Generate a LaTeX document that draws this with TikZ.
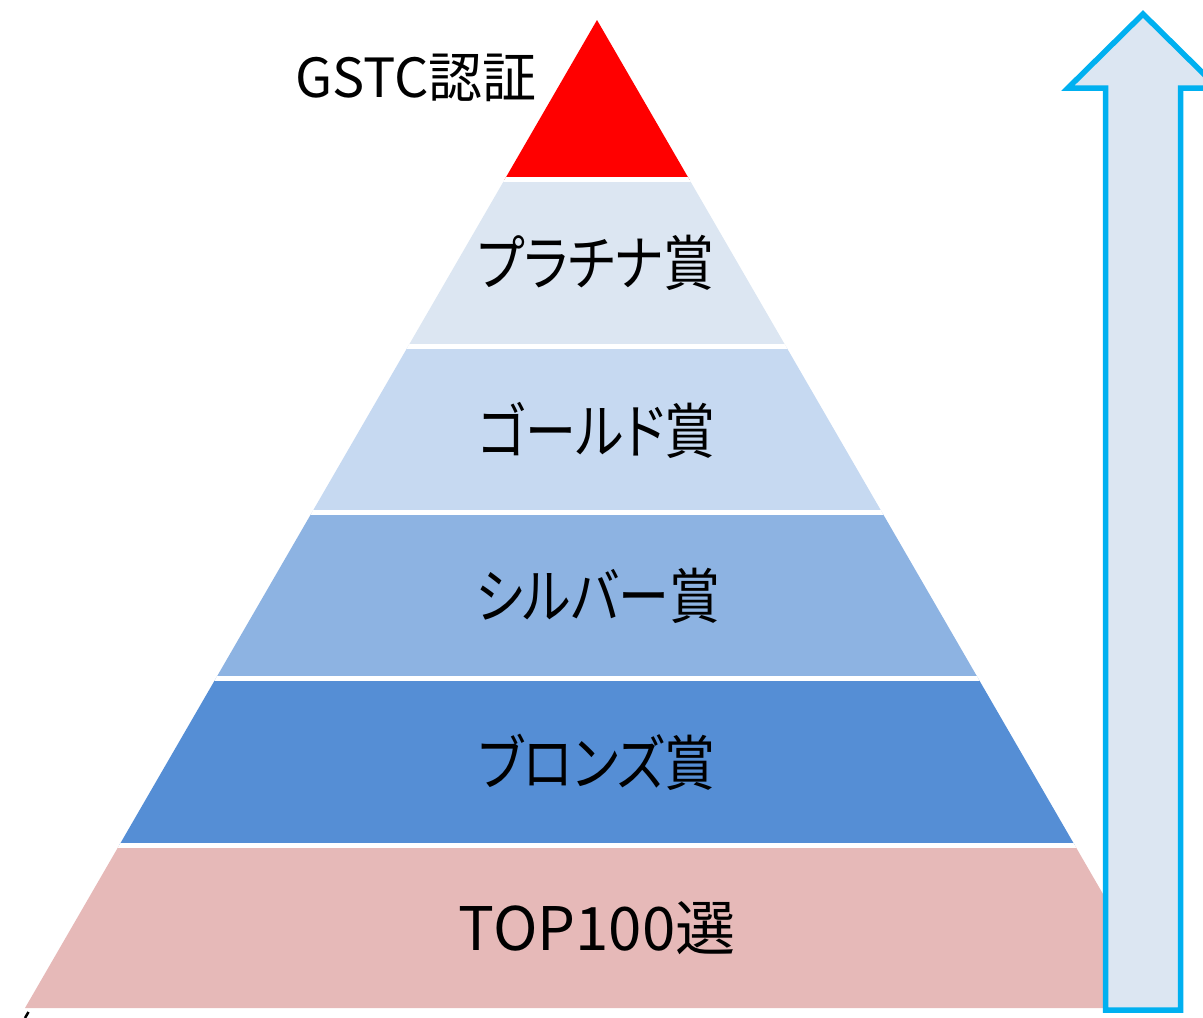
\documentclass[tikz,border=0pt]{standalone}
\usepackage{fontspec}
\usepackage{graphicx}
\setmainfont{Noto Sans CJK JP}[RawFeature=+palt]
\newfontfamily\jpfont{Noto Sans CJK JP}[RawFeature=+palt]
\definecolor{platcol}{HTML}{DCE6F2}
\definecolor{goldcol}{HTML}{C6D9F1}
\definecolor{silvcol}{HTML}{8DB3E2}
\definecolor{bronzecol}{HTML}{558ED5}
\definecolor{topcol}{HTML}{E6B9B8}
\definecolor{arrowedge}{HTML}{00B0F0}
\definecolor{arrowfill}{HTML}{DCE6F2}
\newcommand{\narrowtext}[1]{\scalebox{0.85}[1]{#1}}
\tikzset{
  bandlabel/.style={inner sep=0pt, font=\jpfont\fontsize{60}{66}\selectfont, text=black},
  toplabel/.style={inner sep=0pt, font=\jpfont\fontsize{54}{60}\selectfont, text=black},
  gap/.style={white, line width=5pt},
}
\begin{document}
\begin{tikzpicture}[x=1pt,y=-1pt]
\useasboundingbox (0,0) rectangle (1203,1018);
\clip (0,0) rectangle (1203,1018);
\begin{scope}
  \clip (597,20) -- (25,1008) -- (1169,1008) -- cycle;
  \fill[red] (0,0) rectangle (1203,179.5);
  \fill[platcol] (0,179.5) rectangle (1203,346.5);
  \fill[goldcol] (0,346.5) rectangle (1203,512.5);
  \fill[silvcol] (0,512.5) rectangle (1203,678.5);
  \fill[bronzecol] (0,678.5) rectangle (1203,845);
  \fill[topcol] (0,845) rectangle (1203,1010);
  \draw[gap] (0,179.5) -- (1203,179.5);
  \draw[gap] (0,346.5) -- (1203,346.5);
  \draw[gap] (0,512.5) -- (1203,512.5);
  \draw[gap] (0,678.5) -- (1203,678.5);
  \draw[gap] (0,845) -- (1203,845);
\end{scope}
\node[toplabel] (gstc) at (416,78) {GSTC認証};
\node[bandlabel] (plat) at (596,263) {\narrowtext{プラチナ賞}};
\node[bandlabel] (gold) at (597,430) {\narrowtext{ゴールド賞}};
\node[bandlabel] (silver) at (598,596) {\narrowtext{シルバー賞}};
\node[bandlabel] (bronze) at (597,762) {\narrowtext{ブロンズ賞}};
\node[bandlabel] (top) at (597,928) {TOP100選};
\draw[arrowedge, fill=arrowfill, line width=5.5pt, miter limit=10]
  (1143,14) -- (1218,88) -- (1180.5,88) -- (1180.5,1010) -- (1105.5,1010)
  -- (1105.5,88) -- (1068,88) -- cycle;
\draw[black, line width=2.5pt] (25,1018) -- (28.5,1012);
\end{tikzpicture}
\end{document}
